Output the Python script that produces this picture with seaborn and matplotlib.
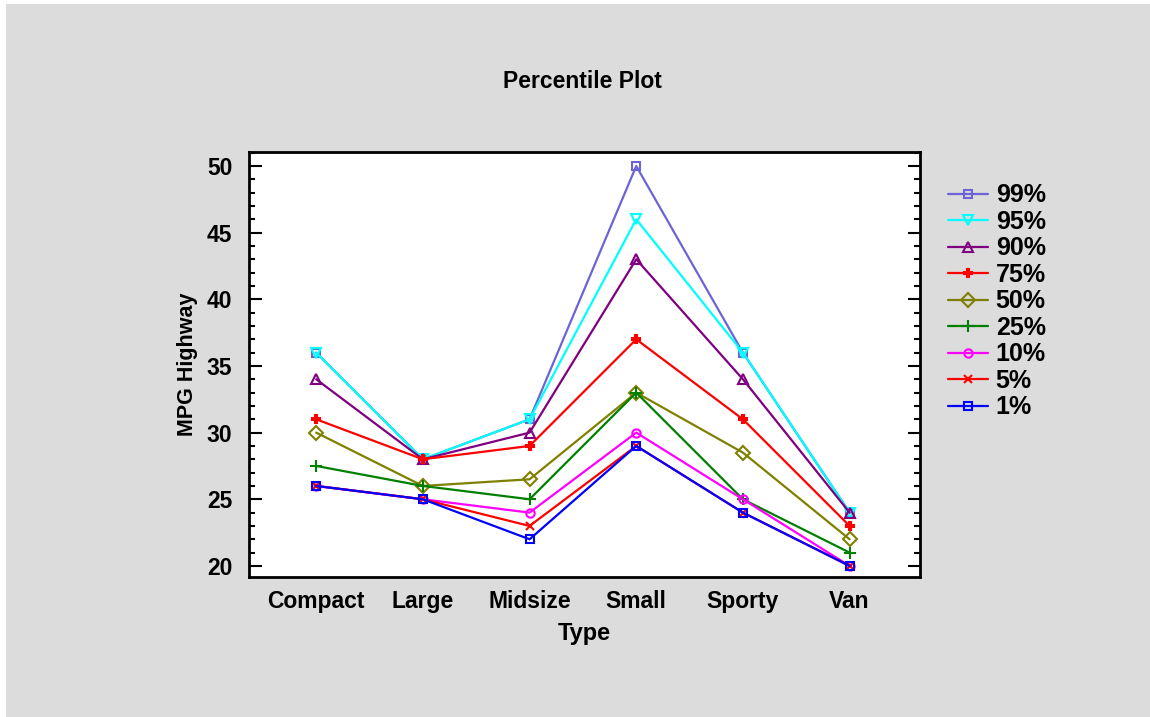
import numpy as np
import pandas as pd
import matplotlib
matplotlib.use("Agg")
import matplotlib.pyplot as plt
from matplotlib.patches import Rectangle
from matplotlib.ticker import MultipleLocator
import seaborn as sns

# data
types = ['Compact', 'Large', 'Midsize', 'Small', 'Sporty', 'Van']
percentiles = ['99%', '95%', '90%', '75%', '50%', '25%', '10%', '5%', '1%']
p99 = [36, 28, 31, 50, 36, 24]
p95 = [36, 28, 31, 46, 36, 24]
p90 = [34, 28, 30, 43, 34, 24]
p75 = [31, 28, 29, 37, 31, 23]
p50 = [30, 26, 26.5, 33, 28.5, 22]
p25 = [27.5, 26, 25, 33, 25, 21]
p10 = [26, 25, 24, 30, 25, 20]
p5 = [26, 25, 23, 29, 24, 20]
p1 = [26, 25, 22, 29, 24, 20]
series = [p99, p95, p90, p75, p50, p25, p10, p5, p1]

colors = ['#6c63d6', '#00ffff', '#800080', '#ff0000', '#808000',
          '#008000', '#ff00ff', '#ff0000', '#0000ff']
markers = ['s', 'v', '^', 'P', 'D', '+', 'o', 'x', 's']
msizes = [6, 7, 7, 6, 7, 8, 6, 6, 6]
open_mk = [True, True, True, False, True, False, True, False, True]

df = pd.DataFrame({
    'Type': types * len(percentiles),
    'Percentile': np.repeat(percentiles, len(types)),
    'MPG': np.concatenate(series),
})

sns.set_style("white")
plt.rcParams['font.family'] = ['Liberation Sans', 'DejaVu Sans']
plt.rcParams['text.color'] = 'black'
plt.rcParams['axes.labelcolor'] = 'black'
plt.rcParams['xtick.color'] = 'black'
plt.rcParams['ytick.color'] = 'black'

fig = plt.figure(figsize=(11.5, 7.17), dpi=100, facecolor='white')
fig.patches.append(Rectangle((6 / 1150, 0), 1, 1 - 4 / 717, transform=fig.transFigure,
                             facecolor='#dcdcdc', edgecolor='none', zorder=-10))
ax = fig.add_axes([249 / 1150, 1 - 577 / 717, (920 - 249) / 1150, (577 - 152) / 717])
ax.set_facecolor('white')

for i, p in enumerate(percentiles):
    sub = df[df['Percentile'] == p]
    sns.lineplot(data=sub, x='Type', y='MPG', ax=ax, color=colors[i],
                 marker=markers[i], markersize=msizes[i], linewidth=1.6,
                 markerfacecolor='none' if open_mk[i] else colors[i],
                 markeredgecolor=colors[i], markeredgewidth=1.5,
                 label=p, sort=False)

ax.set_xlim(-0.63, 5.66)
ax.set_ylim(19.17, 51.05)
ax.yaxis.set_major_locator(MultipleLocator(5))
ax.yaxis.set_minor_locator(MultipleLocator(1))
ax.tick_params(axis='y', which='major', direction='in', length=9, width=1.5,
               left=True, right=True, labelsize=16.5, pad=12)
ax.tick_params(axis='y', which='minor', direction='in', length=4, width=1.5,
               left=True, right=True)
ax.tick_params(axis='x', which='both', bottom=False, labelsize=16.5, pad=6)
for lab in ax.get_xticklabels() + ax.get_yticklabels():
    lab.set_fontweight('bold')
for s in ax.spines.values():
    s.set_linewidth(2)
    s.set_color('black')

ax.set_xlabel('Type', fontsize=17, fontweight='bold', labelpad=6)
ax.set_ylabel('MPG Highway', fontsize=15.5, fontweight='bold', labelpad=6)
fig.text(582 / 1150, 1 - 81 / 717, 'Percentile Plot', ha='center', va='center',
         fontsize=16.5, fontweight='bold')

ax.legend(loc='upper left', bbox_to_anchor=(1.042, 0.926), frameon=False,
          prop={'size': 18, 'weight': 'bold'}, handlelength=1.6,
          labelspacing=0.1, borderaxespad=0, handletextpad=0.3,
          borderpad=0)

fig.savefig('out.png', dpi=100, facecolor=fig.get_facecolor())
